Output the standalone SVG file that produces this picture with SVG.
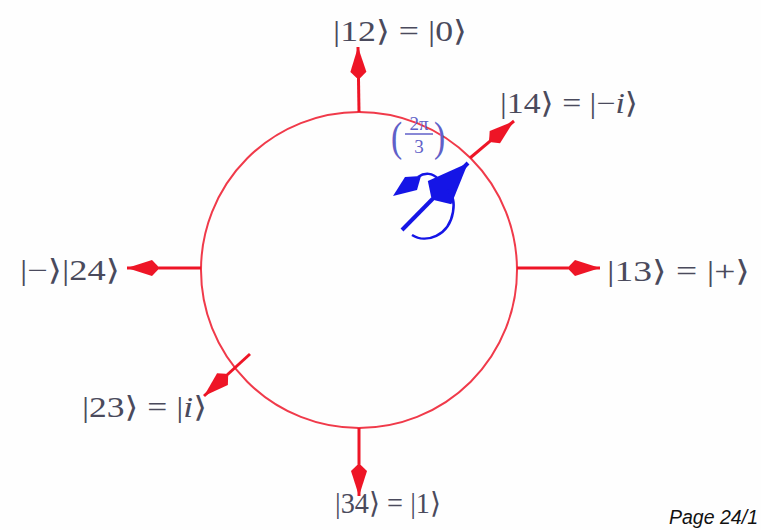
<svg xmlns="http://www.w3.org/2000/svg" width="761" height="530" viewBox="0 0 761 530">
  <defs>
    <style>
      .lbl { font-family: "Liberation Serif", "DejaVu Serif", serif; font-size: 29px; fill: #4a4a5c; }
      .it { font-style: italic; }
      .ray { stroke: #ee1526; stroke-width: 3; fill: none; marker-end: url(#redhead); }
      .blue { stroke: #1515e6; fill: none; }
      .frac { font-family: "Liberation Serif", "DejaVu Serif", serif; fill: #6060c8; }
    </style>
    <marker id="redhead" markerUnits="userSpaceOnUse" viewBox="-40 -10 42 20" refX="0" refY="0" markerWidth="42" markerHeight="20" orient="auto" overflow="visible">
      <path d="M0,0 L-25,-8 L-31,-1.8 L-31,1.8 L-25,8 Z" fill="#ee1526"/>
    </marker>
    <marker id="bluehead" markerUnits="userSpaceOnUse" viewBox="-56 -18 58 36" refX="0" refY="0" markerWidth="58" markerHeight="36" orient="auto" overflow="visible">
      <path d="M0,0 L-41,-16 L-50,-2.5 L-50,2.5 L-41,17 Z" fill="#1515e6"/>
    </marker>
  </defs>
  <rect width="761" height="530" fill="#fefefe"/>

  <g id="circle">
    <circle cx="359" cy="270" r="158" fill="none" stroke="#f03a4a" stroke-width="2"/>
  </g>

  <g id="connectors">
    <path class="ray" d="M359,112 L358,47"/>
    <path class="ray" d="M517,268 L600,268"/>
    <path class="ray" d="M201,268 L127,268"/>
    <path class="ray" d="M359,428 L359,496"/>
    <path class="ray" d="M470,158 L514,121"/>
    <path class="ray" d="M250,354 L204,396"/>
  </g>

  <g id="state-vector">
    <path class="blue" d="M402,230 L468,163" stroke-width="4" marker-end="url(#bluehead)"/>
    <path class="blue" d="M412,235 C426,244 449,236 453,212 C455,201 452,194 447,190" stroke-width="2.5"/>
    <path class="blue" d="M418,177 C425,172 433,173 438,179" stroke-width="2.5"/>
    <polygon points="393,196 405,177 421,176 417,190" fill="#1515e6"/>
  </g>

  <g id="angle-label">
    <text class="frac" x="391" y="151" font-size="42" transform="translate(391 151) scale(0.8 1) translate(-391 -151)">(</text>
    <text class="frac" x="419" y="130" font-size="19" text-anchor="middle">2π</text>
    <line x1="405" y1="134" x2="433" y2="134" stroke="#6060c8" stroke-width="1.5"/>
    <text class="frac" x="419" y="153" font-size="19" text-anchor="middle">3</text>
    <text class="frac" x="434" y="151" font-size="42" transform="translate(434 151) scale(0.8 1) translate(-434 -151)">)</text>
  </g>

  <g id="n12"><text class="lbl" x="333" y="41" textLength="134" lengthAdjust="spacingAndGlyphs">|12⟩ = |0⟩</text></g>
  <g id="n14"><text class="lbl" x="500" y="113" textLength="138" lengthAdjust="spacingAndGlyphs">|14⟩ = |−<tspan class="it">i</tspan>⟩</text></g>
  <g id="n13"><text class="lbl" x="607" y="281" textLength="143" lengthAdjust="spacingAndGlyphs">|13⟩ = |+⟩</text></g>
  <g id="n24"><text class="lbl" x="20" y="280" textLength="100" lengthAdjust="spacingAndGlyphs">|−⟩|24⟩</text></g>
  <g id="n23"><text class="lbl" x="82" y="417" textLength="125" lengthAdjust="spacingAndGlyphs">|23⟩ = |<tspan class="it">i</tspan>⟩</text></g>
  <g id="n34"><text class="lbl" x="335" y="513" textLength="106" lengthAdjust="spacingAndGlyphs">|34⟩ = |1⟩</text></g>

  <text x="669" y="524" font-family="Liberation Sans, Arial, sans-serif" font-style="italic" font-size="20" textLength="89" lengthAdjust="spacingAndGlyphs" fill="#111">Page 24/1</text>
</svg>
